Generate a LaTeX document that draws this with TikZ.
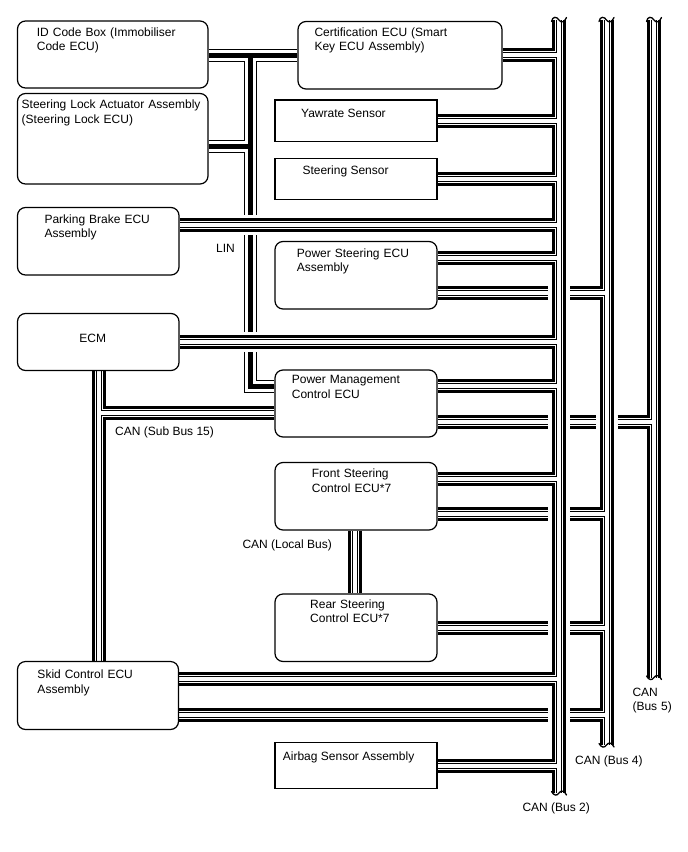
\documentclass[tikz,border=0pt]{standalone}
\usepackage{fontspec}
\setmainfont{Liberation Sans}
\usetikzlibrary{backgrounds}
\newcommand{\LINnet}[1]{%
  \draw[wire,#1] (idc.east |- lA) -- (cert.west |- lA);
  \draw[wire,#1] (lx |- lA) -- (lx |- lB) -- (pmc.west |- lB);
  \draw[wire,#1] (slk.east |- lC) -- (lx |- lC);
}
\newcommand{\CANnet}[1]{%
  % main buses
  \draw[wire,#1] (b2t) -- (b2b);
  \draw[wire,#1] (b4t) -- (b4b);
  \draw[wire,#1] (b5t) -- (b5b);
  % branches to bus 2
  \draw[wire,#1] (cert.east) -- (cert.east -| b2t);
  \draw[wire,#1] (yaw.east) -- (yaw.east -| b2t);
  \draw[wire,#1] (ssen.east) -- (ssen.east -| b2t);
  \draw[wire,#1] (pkb.east |- jpkb) -- (jpkb);
  \draw[wire,#1] (pst.east |- jpst) -- (jpst);
  \draw[wire,#1] (ecm.east) -- (ecm.east -| b2t);
  \draw[wire,#1] (pmc.east |- jpmc) -- (jpmc);
  \draw[wire,#1] (fsc.east |- jfsc) -- (jfsc);
  \draw[wire,#1] (skid.east |- jskid) -- (jskid);
  \draw[wire,#1] (abg.east) -- (abg.east -| b2t);
  % branches crossing bus 2 (and bus 4)
  \draw[wire,#1] (pst.east |- rpst) -- (g2l |- rpst);
  \draw[wire,#1] (g2r |- rpst) -- (b4t |- rpst);
  \draw[wire,#1] (pmc.east |- rpmc) -- (g2l |- rpmc);
  \draw[wire,#1] (g2r |- rpmc) -- (g4l |- rpmc);
  \draw[wire,#1] (g4r |- rpmc) -- (b5t |- rpmc);
  \draw[wire,#1] (fsc.east |- rfsc) -- (g2l |- rfsc);
  \draw[wire,#1] (g2r |- rfsc) -- (b4t |- rfsc);
  \draw[wire,#1] (rsc.east) -- (rsc.east -| g2l);
  \draw[wire,#1] (rsc.east -| g2r) -- (rsc.east -| b4t);
  \draw[wire,#1] (skid.east |- rskid) -- (g2l |- rskid);
  \draw[wire,#1] (g2r |- rskid) -- (b4t |- rskid);
  % CAN sub bus 15
  \draw[wire,#1] (ecm.south -| s15) -- (skid.north -| s15);
  \draw[wire,#1] (s15 |- jsub) -- (pmc.west |- jsub);
  % CAN local bus
  \draw[wire,#1] (fsc.south -| loc) -- (rsc.north -| loc);
}
\begin{document}
\begin{tikzpicture}[x=1pt,y=-1pt,
  rbox/.style={draw=black,line width=1.2pt,fill=white,rounded corners=8pt,inner sep=0pt},
  sbox/.style={draw=black,line width=1.2pt,fill=white,inner sep=0pt},
  txt/.style={font=\fontsize{12}{14.3}\selectfont,inner sep=0pt,anchor=base west},
  mtxt/.style={txt,text width=230pt,align=left},
  wire/.style={line cap=butt,line join=miter},
  captop/.pic={\draw[line width=1.3pt,line cap=round] (-7.5,1.5) .. controls (-6.5,-4) and (-2,-3.5) .. (0,0) .. controls (2,3) and (5.5,2.5) .. (7.5,-2.5);},
  capbot/.pic={\draw[line width=1.3pt,line cap=round] (-7.5,-1.5) .. controls (-5,3) and (-2,3) .. (0,0) .. controls (2,-3) and (5.5,-2.5) .. (7.5,2);}
]
\useasboundingbox (0,0) rectangle (688,852);

% ---- boxes
\node[rbox,minimum width=190.5pt,minimum height=67pt]   (idc)  at (112.75,54.5) {};
\node[rbox,minimum width=204pt,minimum height=67.5pt]   (cert) at (400,55.25) {};
\node[rbox,minimum width=190.5pt,minimum height=90.5pt] (slk)  at (112.75,138.75) {};
\node[sbox,minimum width=162pt,minimum height=41.5pt]   (yaw)  at (356,120.75) {};
\node[sbox,minimum width=162pt,minimum height=41pt]     (ssen) at (356,179) {};
\node[rbox,minimum width=161.5pt,minimum height=67.5pt] (pkb)  at (98.25,241.25) {};
\node[rbox,minimum width=162pt,minimum height=67.5pt]   (pst)  at (356,275.25) {};
\node[rbox,minimum width=161.5pt,minimum height=57pt]   (ecm)  at (98.25,342) {};
\node[rbox,minimum width=162pt,minimum height=67pt]     (pmc)  at (356,403.5) {};
\node[rbox,minimum width=162pt,minimum height=67.5pt]   (fsc)  at (356,496.25) {};
\node[rbox,minimum width=162pt,minimum height=67.5pt]   (rsc)  at (356,627.75) {};
\node[rbox,minimum width=161pt,minimum height=68pt]     (skid) at (98,695.5) {};
\node[sbox,minimum width=162pt,minimum height=46pt]     (abg)  at (356,765.5) {};

% ---- texts
\node[mtxt] (idc-t)  at (36.7,36)    {ID Code Box (Immobiliser\\Code ECU)};
\node[mtxt] (cert-t) at (314.3,36.5) {Certification ECU (Smart\\Key ECU Assembly)};
\node[mtxt] (slk-t)  at (21.5,108.7) {Steering Lock Actuator Assembly\\(Steering Lock ECU)};
\node[txt]  (yaw-t)  at (301,117)    {Yawrate Sensor};
\node[txt]  (ssen-t) at (302.3,174.6) {Steering Sensor};
\node[mtxt] (pkb-t)  at (44.3,223)   {Parking Brake ECU\\Assembly};
\node[txt]  (lin-t)  at (216,252)    {LIN};
\node[mtxt] (pst-t)  at (296.7,257)  {Power Steering ECU\\Assembly};
\node[txt,anchor=base] (ecm-t) at (92.7,342.7) {ECM};
\node[mtxt] (pmc-t)  at (291.7,383.7) {Power Management\\Control ECU};
\node[txt]  (s15-t)  at (115,435.5)  {CAN (Sub Bus 15)};
\node[mtxt] (fsc-t)  at (311.7,477.7) {Front Steering\\Control ECU*7};
\node[txt]  (loc-t)  at (242.3,548)  {CAN (Local Bus)};
\node[mtxt] (rsc-t)  at (310,608)    {Rear Steering\\Control ECU*7};
\node[mtxt] (skid-t) at (37.3,678.7) {Skid Control ECU\\Assembly};
\node[txt]  (abg-t)  at (282.7,760.3) {Airbag Sensor Assembly};
\node[txt]  (b2-t)   at (522.3,811)  {CAN (Bus 2)};
\node[txt]  (b4-t)   at (575,764)    {CAN (Bus 4)};
\node[mtxt] (b5-t)   at (632.3,696)  {CAN\\(Bus 5)};

% ---- coordinates
\coordinate (b2t) at (559,20);   \coordinate (b2b) at (559,793);
\coordinate (b4t) at (606.5,20); \coordinate (b4b) at (606.5,745);
\coordinate (b5t) at (654,20);   \coordinate (b5b) at (654,677.5);
\coordinate (jpkb) at (559,225);
\coordinate (jpst) at (559,258);
\coordinate (jpmc) at (559,386.3);
\coordinate (jfsc) at (559,479);
\coordinate (jskid) at (559,679.3);
\coordinate (rpst) at (0,293);
\coordinate (rpmc) at (0,422);
\coordinate (rfsc) at (0,514);
\coordinate (rskid) at (0,715);
\coordinate (g2l) at (548,0);   \coordinate (g2r) at (570,0);
\coordinate (g4l) at (595.5,0); \coordinate (g4r) at (617.5,0);
\coordinate (s15) at (99,0);    \coordinate (jsub) at (0,413);
\coordinate (loc) at (354.5,0);
\coordinate (lx) at (250.5,0);
\coordinate (lA) at (0,55);  \coordinate (lB) at (0,386); \coordinate (lC) at (0,146);

\begin{pgfonlayer}{background}
  % LIN
  \LINnet{black,line width=13pt}
  \LINnet{white,line width=11pt}
  \LINnet{black,line width=5pt}
  % gaps in LIN where CAN branches cross
  \draw[wire,white,line width=20pt] (pkb.east |- jpkb) -- (jpkb);
  \draw[wire,white,line width=20pt] (ecm.east) -- (ecm.east -| b2t);
  % CAN
  \CANnet{black,line width=14pt}
  \CANnet{white,line width=8pt}
  \CANnet{black,line width=6pt}
  \CANnet{white,line width=4pt}
  % bus break ends
  \pic at (b2t) {captop};
  \pic at (b4t) {captop};
  \pic at (b5t) {captop};
  \pic at (b2b) {capbot};
  \pic at (b4b) {capbot};
  \pic at (b5b) {capbot};
\end{pgfonlayer}
\end{tikzpicture}
\end{document}
